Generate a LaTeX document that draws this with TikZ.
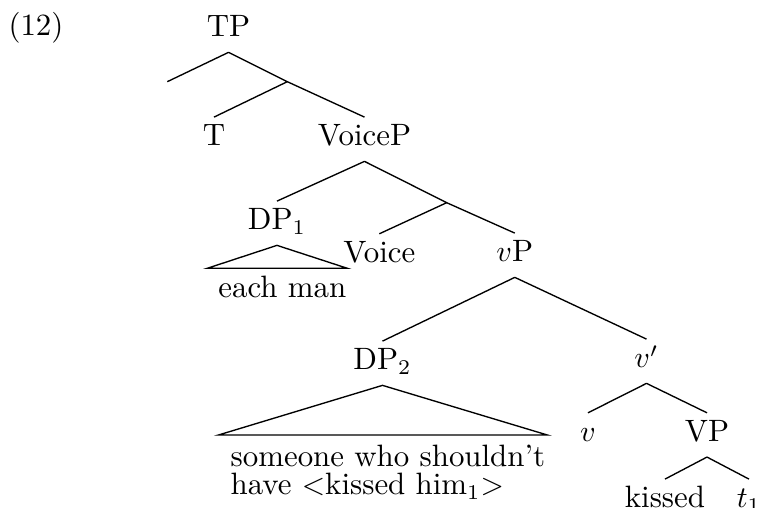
\documentclass[tikz,border=0pt]{standalone}
\usepackage{amsmath, amssymb}
\usepackage{tikz}

\begin{document}
\begin{tikzpicture}[x=0.3333pt,
					y=-0.3333pt,
					line width=0.45pt,
					every node/.style={font=\fontsize{10.3pt}{12pt}\selectfont},
					lab/.style={anchor=base, text height=7pt, text depth=2.5pt, inner sep=2.4pt},
					leaf/.style={anchor=north west, align=left, inner sep=0pt}]

	\useasboundingbox (0,0) rectangle (758,508);

	\node[anchor=base] (ex) at (36,36) {(12)};
	\node[lab] (TP) at (228.5,37) {TP};
	\coordinate (TPe) at (167.3,81.7);
	\coordinate (Tbar) at (287.3,81.7);
	\node[lab] (T) at (214,146) {T};
	\node[lab] (VoiceP) at (364.5,146) {VoiceP};
	\coordinate (Voicebar) at (446.7,202.7);
	\node[lab] (DPa) at (277,230) {DP$_1$};
	\node[lab] (Voice) at (379.3,262.7) {Voice};
	\node[lab] (vP) at (514.8,262) {$v$P};
	\node[lab] (DPb) at (382.5,370) {DP$_2$};
	\node[lab] (vbar) at (646.5,368) {$v'$};
	\node[lab] (v) at (588,441.7) {$v$};
	\node[lab] (VP) at (707,441.7) {VP};
	\node[lab] (kissed) at (665,508) {kissed};
	\node[lab] (t) at (749,508) {$t_1$};
	\node[anchor=base] (eachman) at (282.3,298) {each man};
	\node[leaf] (someone) at (230,444.2) {someone who shouldn't\\[-2.5pt] have $<$kissed him$_1$$>$};

	\coordinate (DPa-l) at (207.3,268.3);
	\coordinate (DPa-r) at (347.3,268.3);
	\coordinate (DPb-l) at (218.5,435);
	\coordinate (DPb-r) at (547.3,435);

	\draw	(TP.south) -- (TPe)
			(TP.south) -- (Tbar) -- (VoiceP.north)
			(Tbar) -- (T.north)
			(VoiceP.south) -- (DPa.north)
			(VoiceP.south) -- (Voicebar) -- (vP.north)
			(Voicebar) -- (Voice.north)
			(vP.south) -- (DPb.north)
			(vP.south) -- (vbar.north)
			(vbar.south) -- (v.north)
			(vbar.south) -- (VP.north)
			(VP.south) -- (kissed.north)
			(VP.south) -- (t.north)
;
	\draw (DPa.south) -- (DPa-r) -- (DPa-l) -- cycle;
	\draw (DPb.south) -- (DPb-r) -- (DPb-l) -- cycle;
\end{tikzpicture}
\end{document}
